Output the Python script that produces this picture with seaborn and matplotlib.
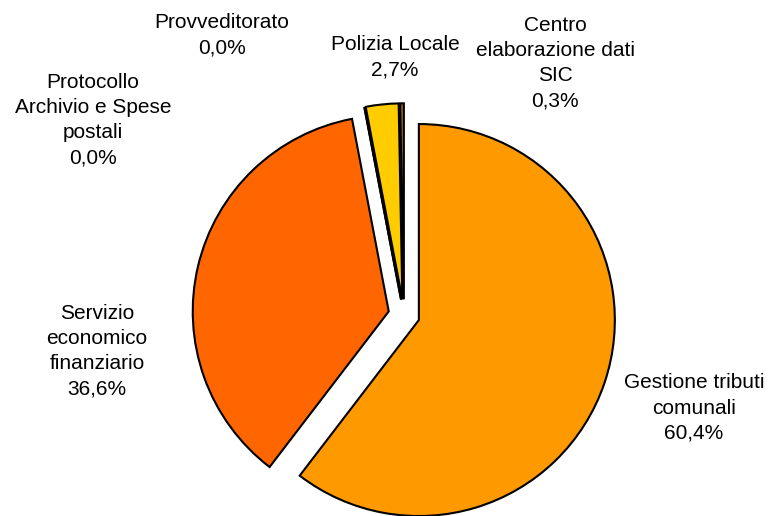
import matplotlib
matplotlib.use("Agg")
import matplotlib.pyplot as plt
import seaborn as sns

# data (clockwise from 12 o'clock)
categories = [
    "Gestione tributi\ncomunali",
    "Servizio\neconomico\nfinanziario",
    "Protocollo\nArchivio e Spese\npostali",
    "Provveditorato",
    "Polizia Locale",
    "Centro\nelaborazione dati\nSIC",
]
shares = [60.4, 36.6, 0.0, 0.0, 2.7, 0.3]
colors = ["#FF9900", "#FF6600", "#FF9900", "#FF9900", "#FFCC00", "#A86A10"]

# where each label sits, in pixels of the 772x516 picture (centre of the text block)
label_px = [(694, 408), (97, 351), (93, 120), (222, 35), (395, 57), (555, 63)]

sns.set_theme(style="white")
plt.rcParams["font.family"] = ["Liberation Sans", "DejaVu Sans"]

W, H = 772, 516
fig = plt.figure(figsize=(W / 100, H / 100), dpi=100)
ax = fig.add_axes([0, 0, 1, 1])

wedges, _ = ax.pie(
    shares,
    colors=colors,
    startangle=90,
    counterclock=False,
    explode=[0.08] * len(shares),
    wedgeprops=dict(edgecolor="black", linewidth=1.5, joinstyle="miter"),
    normalize=True,
)

# pie centre at (404, 315) px, radius 196 px
cx, cy, r = 404, 315, 196
ax.set_xlim(-cx / r, (W - cx) / r)
ax.set_ylim(-(H - cy) / r, cy / r)
ax.set_aspect("equal")
ax.axis("off")

for name, val, (px, py) in zip(categories, shares, label_px):
    txt = name + "\n" + f"{val:.1f}%".replace(".", ",")
    fig.text(px / W, 1 - py / H, txt, ha="center", va="center",
             multialignment="center", fontsize=15, color="black", linespacing=1.42)

fig.savefig("out.png", dpi=100, facecolor="white")
